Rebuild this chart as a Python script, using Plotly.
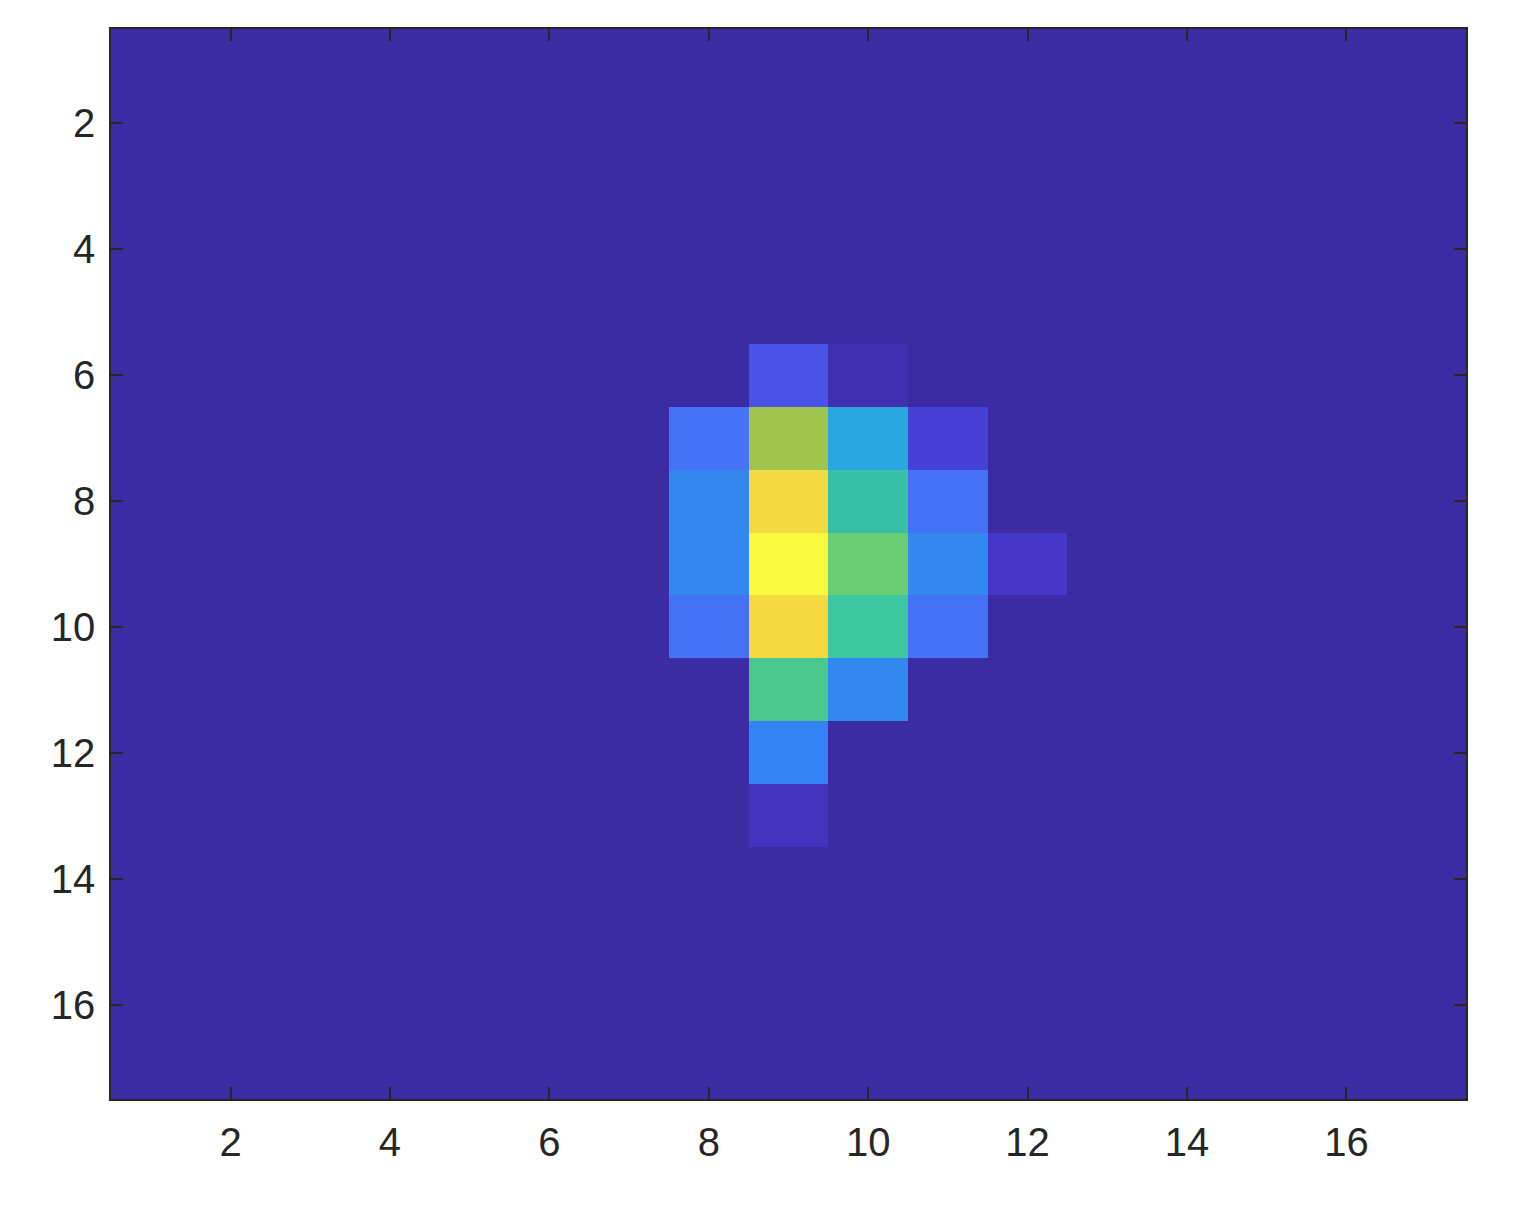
import plotly.graph_objects as go

# grid coordinates (columns / rows of the image)
cols = list(range(1, 18))
rows = list(range(1, 18))

# intensity values per row (row 1 at top)
z = [
    [0]*17,  # 1
    [0]*17,  # 2
    [0]*17,  # 3
    [0]*17,  # 4
    [0]*17,  # 5
    [0, 0, 0, 0, 0, 0, 0, 0, 0.10, 0.015, 0, 0, 0, 0, 0, 0, 0],  # 6
    [0, 0, 0, 0, 0, 0, 0, 0.17, 0.65, 0.35, 0.06, 0, 0, 0, 0, 0, 0],  # 7
    [0, 0, 0, 0, 0, 0, 0, 0.25, 0.90, 0.46, 0.17, 0, 0, 0, 0, 0, 0],  # 8
    [0, 0, 0, 0, 0, 0, 0, 0.25, 1.00, 0.57, 0.25, 0.04, 0, 0, 0, 0, 0],  # 9
    [0, 0, 0, 0, 0, 0, 0, 0.17, 0.90, 0.48, 0.17, 0, 0, 0, 0, 0, 0],  # 10
    [0, 0, 0, 0, 0, 0, 0, 0, 0.52, 0.25, 0, 0, 0, 0, 0, 0, 0],  # 11
    [0, 0, 0, 0, 0, 0, 0, 0, 0.23, 0, 0, 0, 0, 0, 0, 0, 0],  # 12
    [0, 0, 0, 0, 0, 0, 0, 0, 0.03, 0, 0, 0, 0, 0, 0, 0, 0],  # 13
    [0]*17,  # 14
    [0]*17,  # 15
    [0]*17,  # 16
    [0]*17,  # 17
]

tick_vals = [2, 4, 6, 8, 10, 12, 14, 16]
tick_text = ["2", "4", "6", "8", "10", "12", "14", "16"]

# parula-like colour map (as rendered in the reference)
parula = [
    [0.00, "#3c2ca3"],
    [0.015, "#3f31b2"],
    [0.03, "#4234bc"],
    [0.04, "#4538c8"],
    [0.06, "#4640d6"],
    [0.10, "#4a52e8"],
    [0.17, "#4672f8"],
    [0.23, "#3581f6"],
    [0.25, "#3388f0"],
    [0.35, "#2aa6e0"],
    [0.46, "#38c0a6"],
    [0.48, "#3ec6a0"],
    [0.52, "#48c88c"],
    [0.57, "#6acc74"],
    [0.65, "#a0c44e"],
    [0.80, "#e8cc44"],
    [0.90, "#f4da40"],
    [1.00, "#f8f83c"],
]

fig = go.Figure(
    go.Heatmap(
        x=cols, y=rows, z=z,
        colorscale=parula, zmin=0, zmax=1,
        showscale=False,
    )
)

axis_common = dict(
    tickmode="array",
    tickvals=tick_vals,
    ticktext=tick_text,
    ticks="inside",
    ticklen=12,
    tickwidth=1.5,
    tickcolor="#262626",
    showline=True,
    linecolor="#262626",
    linewidth=1.5,
    mirror="ticks",
    showgrid=False,
    zeroline=False,
    tickfont=dict(family="Liberation Sans, Arial, sans-serif", size=40, color="#262626"),
)

fig.update_xaxes(range=[0.5, 17.5], ticklabelstandoff=7, **axis_common)
fig.update_yaxes(range=[17.5, 0.5], ticklabelstandoff=6, **axis_common)

fig.update_layout(
    width=1540, height=1210,
    margin=dict(l=103, r=82, t=21, b=119),
    paper_bgcolor="white",
    plot_bgcolor="#3c2ca3",
)

fig.write_html("out.html")
